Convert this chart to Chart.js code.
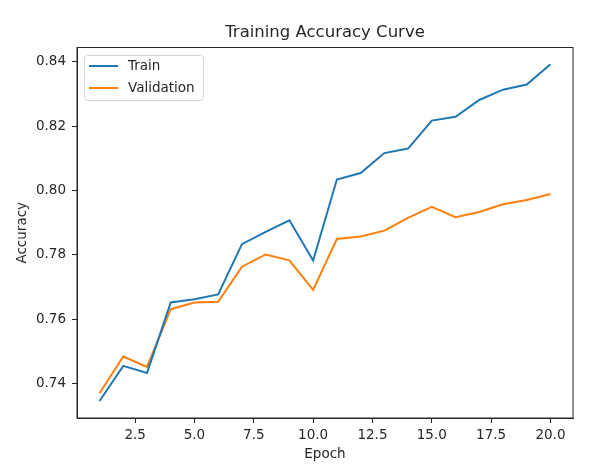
<!DOCTYPE html>
<html>
<head>
<meta charset="utf-8">
<script src="https://cdn.jsdelivr.net/npm/chart.js@4.4.1/dist/chart.umd.min.js"></script>
<style>
  html, body { margin: 0; padding: 0; background: #ffffff; }
  canvas { display: block; }
</style>
</head>
<body>
<canvas id="accChart" width="597" height="473"></canvas>
<script>
const epochs = [1, 2, 3, 4, 5, 6, 7, 8, 9, 10, 11, 12, 13, 14, 15, 16, 17, 18, 19, 20];
const trainAcc = [0.7346, 0.7455, 0.7433, 0.7652, 0.7662, 0.7677, 0.7833, 0.7871, 0.7907, 0.7782,
                  0.8034, 0.8054, 0.8116, 0.8130, 0.8217, 0.8229, 0.8281, 0.8313, 0.8329, 0.8392];
const valAcc = [0.7370, 0.7484, 0.7452, 0.7631, 0.7652, 0.7654, 0.7763, 0.7801, 0.7783, 0.7691,
                0.7849, 0.7857, 0.7875, 0.7915, 0.7949, 0.7917, 0.7933, 0.7957, 0.7970, 0.7989];
const xTicks = [2.5, 5.0, 7.5, 10.0, 12.5, 15.0, 17.5, 20.0];
const yTicks = [0.74, 0.76, 0.78, 0.80, 0.82, 0.84];

const fontFamily = '"DejaVu Sans", sans-serif';
const inkColor = '#262626';

// box round the plot, like the four spines
const framePlugin = {
    id: 'frame',
    afterDatasetsDraw(chart) {
        const { ctx, chartArea: a } = chart;
        ctx.save();
        ctx.strokeStyle = inkColor;
        ctx.lineWidth = 1;
        ctx.strokeRect(a.left, a.top, a.right - a.left, a.bottom - a.top);
        ctx.restore();
    }
};

// legend drawn inside the plot, upper left
const innerLegend = {
    id: 'innerLegend',
    afterDraw(chart) {
        const { ctx, chartArea: a } = chart;
        const x = a.left + 7, y = a.top + 7.5, w = 119, h = 45;
        ctx.save();
        ctx.fillStyle = 'rgba(255,255,255,0.8)';
        ctx.strokeStyle = '#d5d5d5';
        ctx.lineWidth = 1;
        ctx.beginPath();
        ctx.roundRect(x + 0.5, y + 0.5, w, h, 3);
        ctx.fill();
        ctx.stroke();
        ctx.font = '13.5px ' + fontFamily;
        ctx.textBaseline = 'middle';
        chart.data.datasets.forEach(function (ds, i) {
            const rowY = y + 11 + i * 22;
            ctx.strokeStyle = ds.borderColor;
            ctx.lineWidth = 2;
            ctx.beginPath();
            ctx.moveTo(x + 5, rowY);
            ctx.lineTo(x + 34, rowY);
            ctx.stroke();
            ctx.fillStyle = inkColor;
            ctx.fillText(ds.label, x + 44, rowY);
        });
        ctx.restore();
    }
};

new Chart(document.getElementById('accChart'), {
    type: 'line',
    data: {
        labels: epochs,
        datasets: [
            {
                label: 'Train',
                data: epochs.map((e, i) => ({ x: e, y: trainAcc[i] })),
                borderColor: '#1f77b4',
                borderWidth: 2,
                pointRadius: 0,
                tension: 0,
                fill: false
            },
            {
                label: 'Validation',
                data: epochs.map((e, i) => ({ x: e, y: valAcc[i] })),
                borderColor: '#ff7f0e',
                borderWidth: 2,
                pointRadius: 0,
                tension: 0,
                fill: false
            }
        ]
    },
    options: {
        responsive: false,
        animation: false,
        layout: { padding: { left: 0, right: 24, top: 0, bottom: 0 } },
        plugins: {
            legend: { display: false },
            tooltip: { enabled: false },
            title: {
                display: true,
                text: 'Training Accuracy Curve',
                fullSize: false,
                color: inkColor,
                font: { family: fontFamily, size: 16.5, weight: 'normal' },
                padding: { top: 22.6, bottom: 5.1 }
            }
        },
        scales: {
            x: {
                type: 'linear',
                min: 0.05,
                max: 20.95,
                afterBuildTicks: function (scale) {
                    scale.ticks = xTicks.map(v => ({ value: v }));
                },
                afterFit: function (scale) { scale.height = 55; },
                ticks: {
                    color: inkColor,
                    font: { family: fontFamily, size: 13.5 },
                    padding: 4,
                    maxRotation: 0,
                    autoSkip: false,
                    callback: v => v.toFixed(1)
                },
                grid: { drawOnChartArea: false, drawTicks: true, tickLength: 5, color: inkColor },
                border: { display: true, color: inkColor },
                title: {
                    display: true,
                    text: 'Epoch',
                    color: inkColor,
                    font: { family: fontFamily, size: 13.5 },
                    padding: { top: 0, bottom: 10 }
                }
            },
            y: {
                min: 0.7293,
                max: 0.8444,
                afterBuildTicks: function (scale) {
                    scale.ticks = yTicks.map(v => ({ value: v }));
                },
                afterFit: function (scale) { scale.width = 77; },
                ticks: {
                    color: inkColor,
                    font: { family: fontFamily, size: 13.5 },
                    padding: 6,
                    autoSkip: false,
                    callback: v => v.toFixed(2)
                },
                grid: { drawOnChartArea: false, drawTicks: true, tickLength: 5, color: inkColor },
                border: { display: true, color: inkColor },
                title: {
                    display: true,
                    text: 'Accuracy',
                    color: inkColor,
                    font: { family: fontFamily, size: 13.5 },
                    padding: { top: 14, bottom: 0 }
                }
            }
        }
    },
    plugins: [framePlugin, innerLegend]
});
</script>
</body>
</html>
